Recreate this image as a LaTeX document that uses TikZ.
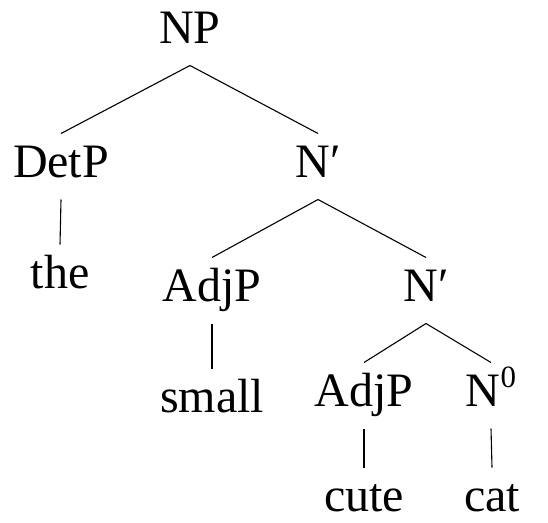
\documentclass[tikz,border=0pt]{standalone}
\usepackage{fontspec}
\setmainfont{Liberation Serif}
\begin{document}
\begin{tikzpicture}[x=1pt,y=-1pt,
		cat/.style={anchor=base,inner xsep=2pt,inner ysep=0pt,outer ysep=11.5pt,
			text height=32pt,text depth=11pt,
			font=\fontsize{48}{56}\selectfont},
		word/.style={cat,text depth=0pt},
		branch/.style={line width=1.1pt}]
		\useasboundingbox (0,0) rectangle (548,522);
		
		% Phrase labels
		\node[cat] (np) at (190,43) {NP};
		\node[cat] (detp) at (61,177) {DetP};
		\node[cat] (nbar) at (318,177) {N′};
		\node[cat] (adjp) at (212,301) {AdjP};
		\node[cat] (nbarb) at (426,301) {N′};
		\node[cat] (adjpb) at (364,406) {AdjP};
		\node[cat] (nzero) at (491,406) {N\raisebox{19pt}{\fontsize{31}{31}\selectfont 0}};
		
		% Words
		\node[word] (the) at (60,288) {the};
		\node[word] (small) at (212,412) {small};
		\node[word] (cute) at (364,511) {cute};
		\node[word] (cat) at (492,511) {cat};
		
		% Branches
		\draw[branch] (detp.north) -- (np.south) -- (nbar.north);
		\draw[branch] (adjp.north) -- (nbar.south) -- (nbarb.north);
		\draw[branch] (adjpb.north) -- (nbarb.south) -- (nzero.north);
		\draw[branch] (detp.south) -- (the.north);
		\draw[branch] (adjp.south) -- (small.north);
		\draw[branch] (adjpb.south) -- (cute.north);
		\draw[branch] (nzero.south) -- (cat.north);
		
	\end{tikzpicture}
\end{document}
